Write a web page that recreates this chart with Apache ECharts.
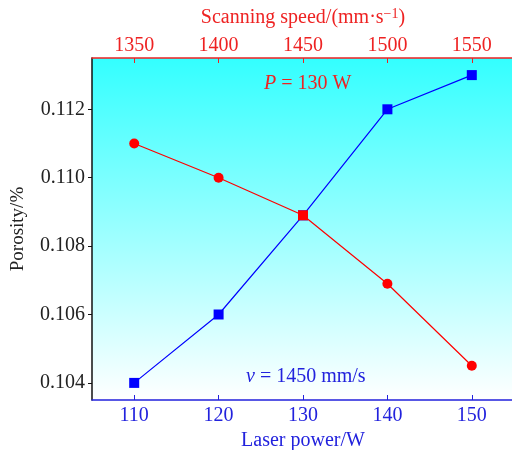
<!DOCTYPE html>
<html>
<head>
<meta charset="utf-8">
<script src="https://cdn.jsdelivr.net/npm/echarts@6/dist/echarts.min.js"></script>
<style>
  html, body { margin: 0; padding: 0; background: #fff; }
  #chart { width: 512px; height: 450px; }
</style>
</head>
<body>
<div id="chart"></div>
<script>
// laser power (bottom axis) vs porosity
const powerValues = [110, 120, 130, 140, 150]
const porosityByPower = [0.104, 0.106, 0.1089, 0.112, 0.113]
// scanning speed (top axis) vs porosity
const speedValues = [1350, 1400, 1450, 1500, 1550]
const porosityBySpeed = [0.111, 0.110, 0.1089, 0.1069, 0.1045]
// tick labels
const powerTicks = [110, 120, 130, 140, 150]
const speedTicks = [1350, 1400, 1450, 1500, 1550]
const porosityTicks = [0.104, 0.106, 0.108, 0.110, 0.112]

const FONT = 'Liberation Serif'
const RED = '#ee2222'
const BLUE = '#2222dd'

const myChart = echarts.init(document.getElementById('chart'))

const options = {
  animation: false,
  grid: {
    left: 92,
    top: 58,
    width: 422,
    height: 342,
    outerBoundsMode: 'none',
    containLabel: false,
    show: true,
    borderWidth: 0,
    backgroundColor: new echarts.graphic.LinearGradient(0, 0, 0, 1, [
      { offset: 0, color: '#33ffff' },
      { offset: 1, color: '#ffffff' }
    ])
  },
  xAxis: [
    {
      type: 'value',
      position: 'bottom',
      min: 105,
      max: 155,
      name: 'Laser power/W',
      nameLocation: 'middle',
      nameGap: 31,
      nameTextStyle: { color: BLUE, fontFamily: FONT, fontSize: 20 },
      axisLine: { show: true, onZero: false, lineStyle: { color: BLUE, width: 1.5 } },
      axisTick: { show: true, inside: true, length: 5, customValues: powerTicks, lineStyle: { color: BLUE } },
      axisLabel: { color: BLUE, fontFamily: FONT, fontSize: 20, margin: 6, customValues: powerTicks },
      splitLine: { show: false }
    },
    {
      type: 'value',
      position: 'top',
      min: 1325,
      max: 1575,
      name: 'Scanning speed/(mm·s{sup|−1})',
      nameLocation: 'middle',
      nameGap: 29,
      nameTextStyle: {
        color: RED,
        fontFamily: FONT,
        fontSize: 20,
        rich: {
          sup: { color: RED, fontFamily: FONT, fontSize: 14, verticalAlign: 'top', padding: [0, 0, 8, 0] }
        }
      },
      axisLine: { show: true, onZero: false, lineStyle: { color: RED, width: 1.5 } },
      axisTick: { show: true, inside: true, length: 5, customValues: speedTicks, lineStyle: { color: RED } },
      axisLabel: {
        color: RED,
        fontFamily: FONT,
        fontSize: 20,
        margin: 2,
        customValues: speedTicks,
        formatter: v => String(v)
      },
      splitLine: { show: false }
    }
  ],
  yAxis: {
    type: 'value',
    min: 0.1035,
    max: 0.1135,
    name: 'Porosity/%',
    nameLocation: 'middle',
    nameGap: 64,
    nameTextStyle: { color: '#222', fontFamily: FONT, fontSize: 19 },
    axisLine: { show: true, onZero: false, lineStyle: { color: '#111', width: 1.5 } },
    axisTick: { show: true, inside: false, length: 4, customValues: porosityTicks, lineStyle: { color: '#111' } },
    axisLabel: {
      color: '#222',
      fontFamily: FONT,
      fontSize: 20,
      margin: 7,
      customValues: porosityTicks,
      formatter: v => v.toFixed(3)
    },
    splitLine: { show: false }
  },
  series: [
    {
      type: 'line',
      xAxisIndex: 0,
      data: powerValues.map((x, i) => [x, porosityByPower[i]]),
      symbol: 'rect',
      symbolSize: 10,
      lineStyle: { color: '#0000ff', width: 1.2 },
      itemStyle: { color: '#0000ff' },
      z: 2
    },
    {
      type: 'line',
      xAxisIndex: 1,
      // the shared point (1450 / 130) is drawn as a red square, as in the original
      data: speedValues.map((x, i) =>
        x === 1450 ? { value: [x, porosityBySpeed[i]], symbol: 'rect' } : [x, porosityBySpeed[i]]
      ),
      symbol: 'circle',
      symbolSize: 10,
      lineStyle: { color: '#ff0000', width: 1.2 },
      itemStyle: { color: '#ff0000' },
      z: 3
    }
  ],
  graphic: [
    {
      type: 'text',
      left: 264,
      top: 74,
      style: {
        text: '{i|P} = 130 W',
        fill: RED,
        font: '20px ' + FONT,
        rich: { i: { fontStyle: 'italic', fontFamily: FONT, fontSize: 20, fill: RED } }
      }
    },
    {
      type: 'text',
      left: 246,
      top: 367,
      style: {
        text: '{i|v} = 1450 mm/s',
        fill: BLUE,
        font: '20px ' + FONT,
        rich: { i: { fontStyle: 'italic', fontFamily: FONT, fontSize: 20, fill: BLUE } }
      }
    }
  ]
}

myChart.setOption(options)
</script>
</body>
</html>
